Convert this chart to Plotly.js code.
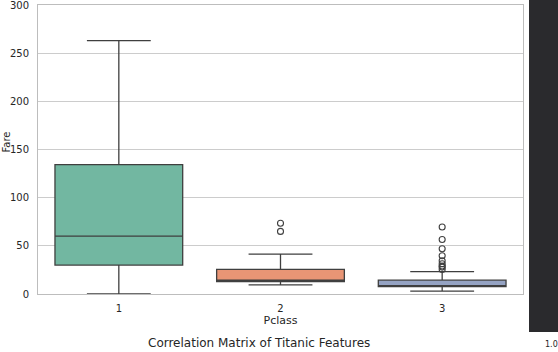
<!DOCTYPE html>
<html>
<head>
<meta charset="utf-8">
<script src="https://cdn.plot.ly/plotly-3.0.1.min.js"></script>
<style>html,body{margin:0;padding:0;background:#fff;}#chart{width:558px;height:352px;}</style>
</head>
<body>
<div id="chart"></div>
<script>
// Categories (Pclass)
const classes = ['1', '2', '3'];
// Box statistics for Fare by Pclass
const q1Vals = [30.0, 12.9, 7.75];
const medianVals = [60.0, 14.25, 8.05];
const q3Vals = [134.3, 25.5, 14.3];
const lowerFenceVals = [0.0, 9.5, 3.0];
const upperFenceVals = [263.0, 41.3, 23.3];
// Outliers per class
const outliers2 = [73.5, 65.0];
const outliers3 = [69.55, 56.5, 46.9, 39.7, 34.4, 31.4, 29.1, 27.9, 25.5];
const yTicks = [0, 50, 100, 150, 200, 250, 300];
const fillColors = ['#72b7a1', '#e99575', '#95a3c3'];

const traces = classes.map((c, i) => ({
  type: 'box',
  x: [c],
  q1: [q1Vals[i]],
  median: [medianVals[i]],
  q3: [q3Vals[i]],
  lowerfence: [lowerFenceVals[i]],
  upperfence: [upperFenceVals[i]],
  width: 0.79,
  whiskerwidth: 0.5,
  boxpoints: false,
  fillcolor: fillColors[i],
  line: {color: '#3f3f3f', width: 1.3},
  showlegend: false,
  hoverinfo: 'skip'
}));

traces.push({
  type: 'scatter', mode: 'markers',
  x: outliers2.map(() => classes[1]).concat(outliers3.map(() => classes[2])),
  y: outliers2.concat(outliers3),
  marker: {symbol: 'circle-open', size: 6, color: '#3f3f3f', line: {width: 1.1}},
  showlegend: false, hoverinfo: 'skip'
});

const layout = {
  width: 558, height: 352,
  margin: {l: 38, r: 35, t: 5, b: 58, pad: 0},
  paper_bgcolor: '#ffffff', plot_bgcolor: '#ffffff',
  font: {family: 'DejaVu Sans', size: 10, color: '#262626'},
  showlegend: false,
  xaxis: {
    type: 'category', range: [-0.5, 2.5],
    showgrid: false, zeroline: false,
    showline: true, mirror: true, linecolor: '#bdbdbd', linewidth: 1,
    ticks: '', ticklabelstandoff: 5,
    tickfont: {family: 'DejaVu Sans', size: 10, color: '#262626'},
    title: {text: 'Pclass', font: {family: 'DejaVu Sans', size: 11, color: '#262626'}, standoff: 2}
  },
  yaxis: {
    range: [0, 300], tickvals: yTicks, ticklabeloverflow: 'allow',
    showgrid: true, gridcolor: '#cccccc', gridwidth: 1, zeroline: false,
    showline: true, mirror: true, linecolor: '#bdbdbd', linewidth: 1,
    ticks: '', ticklabelstandoff: 6,
    tickfont: {family: 'DejaVu Sans', size: 10, color: '#262626'},
    title: {text: ''}
  },
  shapes: [
    {type: 'rect', xref: 'paper', yref: 'paper', x0: 1.0124, x1: 1.08, y0: -0.1315, y1: 1.05,
     fillcolor: '#2a2a2d', line: {width: 0}, layer: 'above'}
  ],
  annotations: [
    {text: 'Fare', xref: 'paper', yref: 'paper', x: -0.0649, y: 0.526, textangle: -90,
     xanchor: 'center', yanchor: 'middle', showarrow: false,
     font: {family: 'DejaVu Sans', size: 10, color: '#262626'}},
    {text: 'Correlation Matrix of Titanic Features', xref: 'paper', yref: 'paper',
     x: 0.4557, y: -0.1696, xanchor: 'center', yanchor: 'middle', showarrow: false,
     font: {family: 'DejaVu Sans', size: 12, color: '#262626'}},
    {text: '1.0', xref: 'paper', yref: 'paper', x: 1.0412, y: -0.1965,
     xanchor: 'left', yanchor: 'bottom', showarrow: false,
     font: {family: 'DejaVu Sans', size: 8, color: '#262626'}}
  ]
};

Plotly.newPlot('chart', traces, layout, {staticPlot: true, displayModeBar: false});
</script>
</body>
</html>
